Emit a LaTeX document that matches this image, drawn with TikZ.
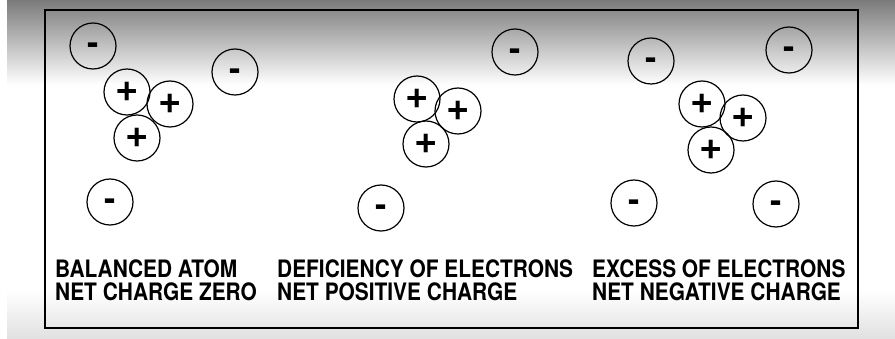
\documentclass[tikz,border=0pt]{standalone}
\usepackage{fontspec}
\setmainfont{TeX Gyre Heros}
\newfontfamily\lbl[FakeStretch=0.87]{TeX Gyre Heros}
\begin{document}
\begin{tikzpicture}[x=1pt,y=-1pt,
  charge/.style={circle,draw=black,line width=1.2pt,minimum size=46pt,inner sep=0pt},
  poschg/.style={charge,font=\fontsize{40}{40}\selectfont\bfseries},
  negchg/.style={charge,font=\fontsize{34}{34}\selectfont\bfseries,text height=18pt,text depth=0pt},
  caption/.style={anchor=north west,align=left,inner sep=0pt,font=\lbl\fontsize{24}{23}\selectfont\bfseries}]
\useasboundingbox (0,0) rectangle (895,339);
% background
\shade[top color=black!52,bottom color=white] (7,0) rectangle (895,85);
\fill[white] (7,85) rectangle (895,290);
\shade[top color=white,bottom color=black!12] (7,290) rectangle (895,339);
\fill[white] (0,0) rectangle (7,339);
% frame
\draw[line width=2.2pt] (45,10) rectangle (858,328);
% group 1
\node[negchg] (a1) at (93,46) {-};
\node[negchg] (a2) at (235,72) {-};
\node[poschg] (a3) at (127,92) {+};
\node[poschg] (a4) at (170,104) {+};
\node[poschg] (a5) at (137,138) {+};
\node[negchg] (a6) at (110,202) {-};
% group 2
\node[negchg] (b1) at (515,52) {-};
\node[poschg] (b2) at (417,99) {+};
\node[poschg] (b3) at (458,111) {+};
\node[poschg] (b4) at (426,144) {+};
\node[negchg] (b5) at (381,208) {-};
% group 3
\node[negchg] (c1) at (651,61) {-};
\node[negchg] (c2) at (789,50) {-};
\node[poschg] (c3) at (702,104) {+};
\node[poschg] (c4) at (743,118) {+};
\node[poschg] (c5) at (711,150) {+};
\node[negchg] (c6) at (634,203) {-};
\node[negchg] (c7) at (776,204) {-};
% captions
\node[caption] (t1) at (55,260) {BALANCED ATOM\\NET CHARGE ZERO};
\node[caption] (t2) at (277,260) {DEFICIENCY OF ELECTRONS\\NET POSITIVE CHARGE};
\node[caption] (t3) at (592,260) {EXCESS OF ELECTRONS\\NET NEGATIVE CHARGE};
\end{tikzpicture}
\end{document}
